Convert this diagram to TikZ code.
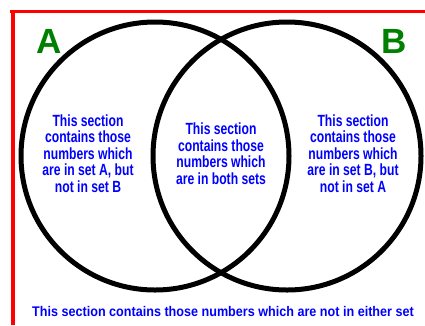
\documentclass[tikz,border=0pt]{standalone}
\usepackage{fontspec}
\setmainfont{Liberation Sans}
\newfontfamily\blockfont[FakeStretch=0.75]{Liberation Sans}
\newfontfamily\linefont[FakeStretch=0.9]{Liberation Sans}
\definecolor{setgreen}{RGB}{0,128,0}
\definecolor{txtblue}{RGB}{0,0,255}
\definecolor{frame}{RGB}{255,0,0}
\tikzset{
  setcircle/.style={circle, draw=black, line width=5pt, minimum size=268pt, inner sep=0pt},
  setlabel/.style={anchor=base, text=setgreen, font=\fontsize{35}{35}\selectfont\bfseries, inner sep=0pt},
  regiontext/.style={align=center, text=txtblue, inner sep=0pt, font=\blockfont\fontsize{16.2}{16.5}\selectfont\bfseries},
  bottomtext/.style={anchor=base, text=txtblue, inner sep=0pt, font=\linefont\fontsize{14}{16}\selectfont\bfseries},
  frameline/.style={draw=frame}
}
\begin{document}
\begin{tikzpicture}[x=1pt,y=-1pt]
\useasboundingbox (0,0) rectangle (425,325);
\coordinate (tl) at (10,11.2);
\coordinate (tr) at (425,11.2);
\coordinate (lt) at (12.5,10);
\coordinate (lb) at (12.5,325);
\draw[frameline, line width=3pt] (tl) -- (tr);
\draw[frameline, line width=4pt] (lt) -- (lb);
\node[setcircle] (A) at (155,156) {};
\node[setcircle] (B) at (287,156) {};
\node[setlabel] (labA) at (49.5,53) {A};
\node[setlabel] (labB) at (394.5,53) {B};
\node[regiontext] (onlyA) at (88,153.5) {This section\\contains those\\numbers which\\are in set A, but\\not in set B};
\node[regiontext] (both) at (221,153.5) {This section\\contains those\\numbers which\\are in both sets};
\node[regiontext] (onlyB) at (353,153.5) {This section\\contains those\\numbers which\\are in set B, but\\not in set A};
\node[bottomtext] (neither) at (223,316) {This section contains those numbers which are not in either set};
\end{tikzpicture}
\end{document}
